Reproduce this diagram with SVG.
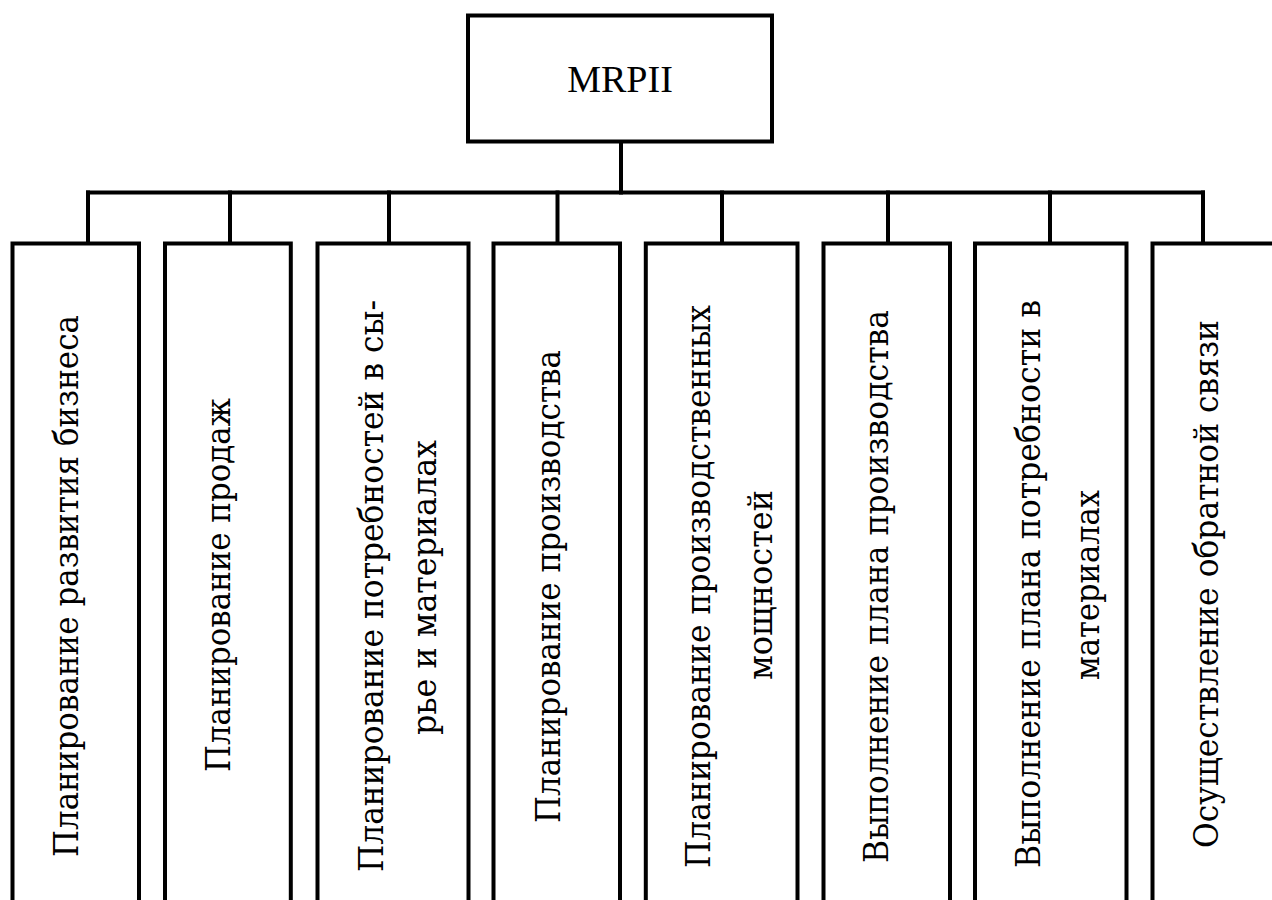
<svg xmlns="http://www.w3.org/2000/svg" width="1272" height="900" viewBox="0 0 1272 900">
  <style>
    .box { fill: #ffffff; stroke: #000000; stroke-width: 4; }
    .wire { fill: none; stroke: #000000; stroke-width: 4; stroke-linecap: square; }
    .title { font-family: "Liberation Serif", "Times New Roman", serif; font-size: 38px; fill: #000000; text-anchor: middle; }
    .lbl { font-family: "DejaVu Serif", "Liberation Serif", serif; font-size: 34px; fill: #000000; text-anchor: middle; }
  </style>
  <rect x="0" y="0" width="1272" height="900" fill="#ffffff"/>

  <!-- tree connectors -->
  <g id="connectors">
    <line class="wire" x1="621" y1="142" x2="621" y2="192.5"/>
    <line class="wire" x1="88" y1="192.5" x2="1203" y2="192.5"/>
    <line class="wire" x1="88" y1="192.5" x2="88" y2="243.5"/>
    <line class="wire" x1="230" y1="192.5" x2="230" y2="243.5"/>
    <line class="wire" x1="389" y1="192.5" x2="389" y2="243.5"/>
    <line class="wire" x1="557.5" y1="192.5" x2="557.5" y2="243.5"/>
    <line class="wire" x1="722" y1="192.5" x2="722" y2="243.5"/>
    <line class="wire" x1="888" y1="192.5" x2="888" y2="243.5"/>
    <line class="wire" x1="1050" y1="192.5" x2="1050" y2="243.5"/>
    <line class="wire" x1="1203" y1="192.5" x2="1203" y2="243.5"/>
  </g>

  <!-- root -->
  <g id="root">
    <rect class="box" x="468" y="15.5" width="304" height="126"/>
    <text class="title" x="620" y="92">MRPII</text>
  </g>

  <!-- subsystems, labels read bottom to top -->
  <g id="n1">
    <rect class="box" x="12.5" y="243.5" width="126.5" height="700"/>
    <text class="lbl" x="78" y="586" transform="rotate(-90 78 586)" textLength="542" lengthAdjust="spacingAndGlyphs">Планирование развития бизнеса</text>
  </g>
  <g id="n2">
    <rect class="box" x="165" y="243.5" width="125.8" height="700"/>
    <text class="lbl" x="230" y="585" transform="rotate(-90 230 585)" textLength="374" lengthAdjust="spacingAndGlyphs">Планирование продаж</text>
  </g>
  <g id="n3">
    <rect class="box" x="317.5" y="243.5" width="151" height="700"/>
    <text class="lbl" x="383" y="586" transform="rotate(-90 383 586)" textLength="572" lengthAdjust="spacingAndGlyphs">Планирование потребностей в сы-</text>
    <text class="lbl" x="436" y="587.5" transform="rotate(-90 436 587.5)" textLength="295" lengthAdjust="spacingAndGlyphs">рье и материалах</text>
  </g>
  <g id="n4">
    <rect class="box" x="493.5" y="243.5" width="126.5" height="700"/>
    <text class="lbl" x="560" y="586.5" transform="rotate(-90 560 586.5)" textLength="473" lengthAdjust="spacingAndGlyphs">Планирование производства</text>
  </g>
  <g id="n5">
    <rect class="box" x="645.8" y="243.5" width="151.7" height="700"/>
    <text class="lbl" x="710" y="586.5" transform="rotate(-90 710 586.5)" textLength="563" lengthAdjust="spacingAndGlyphs">Планирование производственных</text>
    <text class="lbl" x="772" y="585" transform="rotate(-90 772 585)" textLength="190" lengthAdjust="spacingAndGlyphs">мощностей</text>
  </g>
  <g id="n6">
    <rect class="box" x="823.5" y="243.5" width="126.5" height="700"/>
    <text class="lbl" x="888" y="586.5" transform="rotate(-90 888 586.5)" textLength="553" lengthAdjust="spacingAndGlyphs">Выполнение плана производства</text>
  </g>
  <g id="n7">
    <rect class="box" x="975" y="243.5" width="151.5" height="700"/>
    <text class="lbl" x="1040" y="584" transform="rotate(-90 1040 584)" textLength="568" lengthAdjust="spacingAndGlyphs">Выполнение плана потребности в</text>
    <text class="lbl" x="1099" y="585" transform="rotate(-90 1099 585)" textLength="190" lengthAdjust="spacingAndGlyphs">материалах</text>
  </g>
  <g id="n8">
    <rect class="box" x="1152.5" y="243.5" width="200" height="700"/>
    <text class="lbl" x="1218" y="584" transform="rotate(-90 1218 584)" textLength="528" lengthAdjust="spacingAndGlyphs">Осуществление обратной связи</text>
  </g>
</svg>
